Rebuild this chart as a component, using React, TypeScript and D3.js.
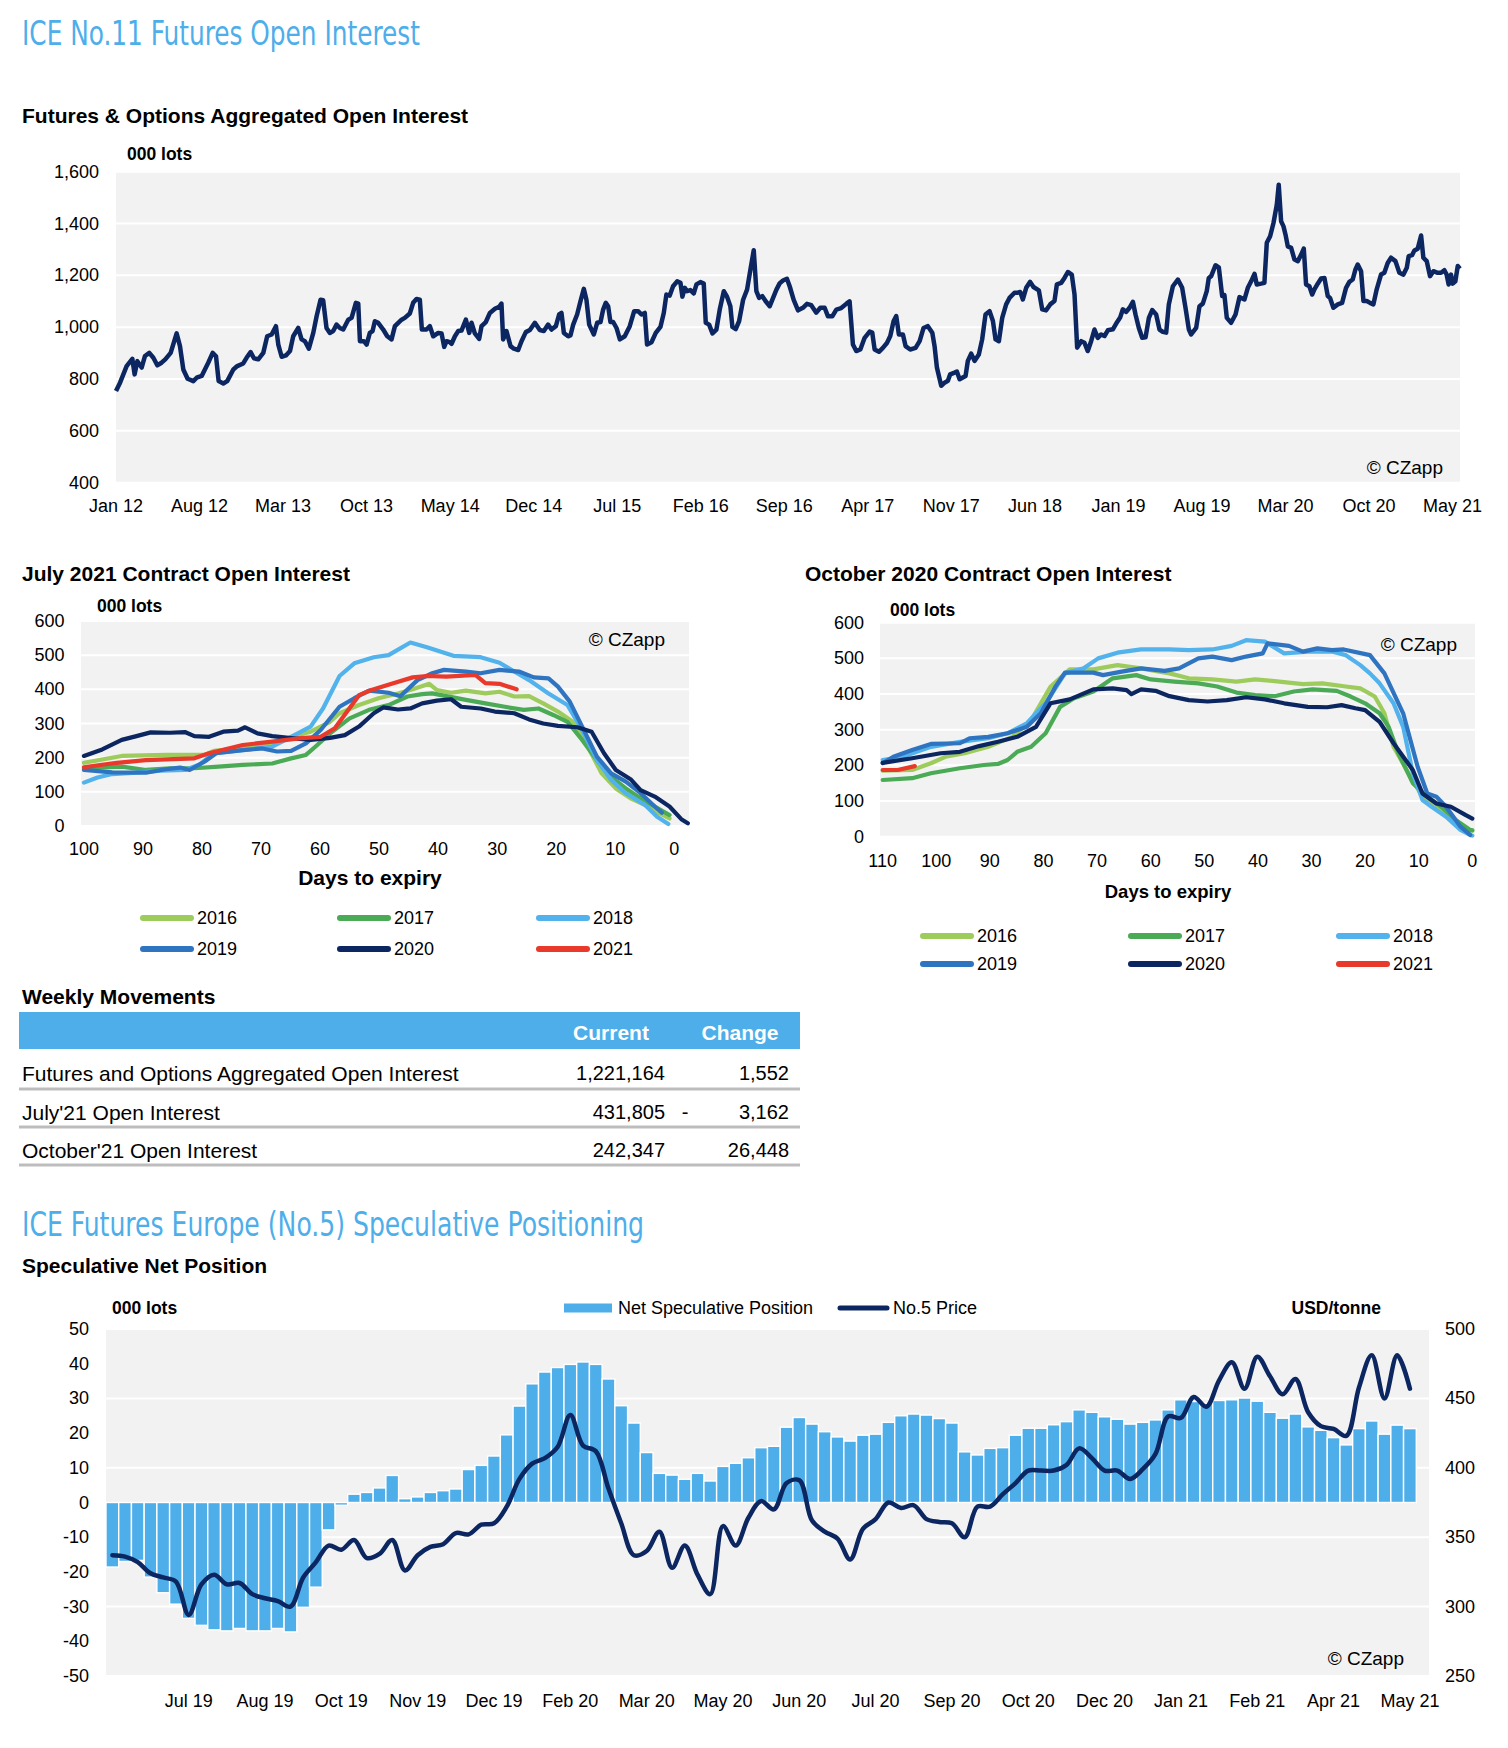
import React from "react";
import * as d3 from "d3";

const FONT = '"Liberation Sans", Arial, Helvetica, sans-serif';
const NARROW = '"Liberation Sans Narrow", "Arial Narrow", "DejaVu Sans Condensed", sans-serif';
const TITLE_BLUE = "#4DAEEA";
const NAVY = "#0B2660";
const BG = "#F2F2F2";

// ---------- Futures & Options Aggregated Open Interest (months since Jan 2012, 000 lots)
const oiSeries: [number, number][] = [
  [0,754],[0.34,786],[0.89,850],[1.37,878],[1.56,818],[1.79,869],[2.15,844],[2.43,889],[2.79,901],[3.13,882],[3.46,853],[3.82,863],[4.13,876],[4.58,901],[5.08,976],[5.36,927],[5.64,837],[6.0,801],[6.48,792],[6.76,805],[7.18,812],[7.73,863],[8.1,901],[8.38,888],[8.6,792],[8.99,783],[9.32,792],[9.83,837],[10.16,850],[10.66,860],[10.94,882],[11.28,904],[11.56,880],[11.92,876],[12.34,901],[12.67,965],[13.04,972],[13.4,1004],[13.6,933],[13.88,886],[14.24,891],[14.58,908],[14.85,965],[15.27,997],[15.55,953],[15.83,946],[16.16,917],[16.53,978],[16.81,1042],[17.14,1106],[17.36,1104],[17.64,997],[17.92,978],[18.2,985],[18.48,1010],[18.76,997],[19.04,991],[19.46,1029],[19.74,1036],[20.1,1094],[20.3,1091],[20.44,946],[20.77,946],[21.0,933],[21.27,978],[21.5,985],[21.69,1023],[21.97,1017],[22.39,991],[22.73,965],[23.09,953],[23.37,1004],[23.65,1017],[23.93,1029],[24.2,1036],[24.62,1053],[24.9,1094],[25.18,1109],[25.46,1106],[25.63,991],[26.02,991],[26.3,1004],[26.58,965],[27.0,978],[27.28,976],[27.5,924],[27.7,946],[27.97,942],
  [28.12,936],[28.4,965],[28.68,985],[28.95,987],[29.32,1029],[29.6,978],[29.79,1017],[30.07,976],[30.43,955],[30.63,1004],[30.99,1020],[31.33,1055],[31.75,1071],[32.11,1079],[32.3,1091],[32.44,953],[32.72,985],[33.06,927],[33.34,917],[33.7,912],[33.98,946],[34.34,981],[34.68,989],[35.1,1017],[35.51,989],[35.85,985],[36.21,1010],[36.49,991],[36.86,1004],[37.13,1049],[37.33,1055],[37.53,978],[37.89,965],[38.08,968],[38.31,1010],[38.64,1049],[38.92,1100],[39.2,1148],[39.42,1106],[39.65,1010],[40.04,972],[40.32,1017],[40.6,1020],[40.82,1068],[41.04,1094],[41.24,1081],[41.43,1020],[41.66,1020],[41.94,997],[42.22,953],[42.63,965],[43.05,1004],[43.42,1062],[43.75,1062],[44.03,1049],[44.31,1055],[44.5,933],[44.87,942],[45.23,978],[45.62,1001],[45.9,1055],[46.12,1126],[46.4,1122],[46.68,1158],[47.02,1177],[47.3,1171],[47.46,1118],[47.66,1152],[47.85,1139],[48.13,1143],[48.41,1130],[48.64,1165],[48.97,1174],[49.25,1168],[49.42,1017],[49.7,1010],[49.98,976],[50.31,991],[50.59,1068],[50.93,1139],[51.2,1118],[51.48,1081],[51.65,1001],[51.93,993],[52.21,1023],[52.55,1106],[52.88,1145],[53.16,1222],[53.44,1297],[53.66,1139],[53.89,1113],[54.16,1120],[54.44,1100],[54.78,1081],[55.06,1113],[55.34,1145],[55.62,1170],
  [55.89,1180],[56.22,1187],[56.45,1158],[56.78,1106],[57.15,1065],[57.56,1075],[57.9,1090],[58.26,1085],[58.68,1056],[59.02,1075],[59.38,1075],[59.66,1042],[60.02,1042],[60.36,1068],[60.77,1074],[61.19,1090],[61.47,1100],[61.75,933],[62.03,908],[62.37,914],[62.73,959],[63.15,983],[63.37,979],[63.57,914],[63.93,905],[64.26,920],[64.6,939],[64.88,966],[65.16,1024],[65.38,1043],[65.6,972],[65.94,972],[66.16,927],[66.55,914],[67.0,920],[67.34,946],[67.67,997],[68.03,1004],[68.4,979],[68.59,927],[68.79,844],[69.15,774],[69.43,786],[69.71,793],[69.9,818],[70.27,825],[70.46,829],[70.69,799],[70.96,806],[71.19,812],[71.38,870],[71.66,898],[71.94,870],[72.3,895],[72.58,953],[72.86,1049],[73.2,1062],[73.48,1024],[73.7,953],[73.98,946],[74.26,1036],[74.59,1088],[74.87,1113],[75.29,1133],[75.57,1133],[75.77,1136],[75.99,1107],[76.27,1152],[76.6,1175],[76.88,1155],[77.33,1142],[77.61,1069],[77.94,1065],[78.28,1088],[78.64,1101],[78.84,1165],[79.2,1171],[79.48,1190],[79.76,1213],[80.09,1203],[80.32,1126],[80.54,921],[80.88,946],[81.15,940],[81.43,908],[81.71,946],[81.99,991],[82.27,959],[82.55,972],[82.83,966],[83.11,988],[83.53,992],[83.81,1014],[84.14,1037],[84.37,1069],
  [84.65,1059],[84.93,1075],[85.21,1098],[85.43,1049],[85.71,997],[85.99,959],[86.27,961],[86.55,1036],[86.83,1066],[87.16,1049],[87.44,991],[87.72,982],[88.0,979],[88.22,1088],[88.56,1158],[88.98,1184],[89.34,1152],[89.62,1075],[89.9,991],[90.09,972],[90.51,997],[90.79,1081],[91.07,1091],[91.4,1139],[91.57,1190],[91.77,1197],[92.13,1239],[92.41,1231],[92.69,1120],[92.88,1124],[93.08,1036],[93.44,1017],[93.81,1049],[94.14,1116],[94.56,1107],[94.84,1152],[95.12,1177],[95.4,1206],[95.59,1165],[95.95,1168],[96.23,1171],[96.43,1326],[96.71,1351],[96.99,1402],[97.27,1473],[97.43,1550],[97.63,1409],[97.83,1389],[98.0,1357],[98.19,1312],[98.47,1306],[98.75,1261],[99.03,1255],[99.31,1280],[99.53,1303],[99.72,1165],[100.0,1158],[100.23,1126],[100.42,1146],[100.7,1168],[100.98,1188],[101.26,1190],[101.54,1120],[101.73,1113],[102.01,1075],[102.38,1088],[102.74,1094],[103.07,1152],[103.35,1175],[103.63,1184],[103.86,1223],[104.05,1242],[104.33,1216],[104.53,1101],[104.81,1101],[105.08,1094],[105.36,1088],[105.64,1146],[106.0,1203],[106.28,1210],[106.56,1248],[106.84,1268],[107.21,1255],[107.54,1210],[107.88,1203],[108.16,1229],[108.32,1274],[108.6,1278],[108.8,1296],[109.08,1303],[109.36,1354],[109.55,1268],[109.83,1255],[110.11,1197],[110.39,1216],[110.75,1210],[111.03,1210],[111.31,1220],[111.5,1203],[111.67,1165],[111.87,1203],[112.01,1168],[112.23,1177],[112.43,1236],[112.62,1226],
];
const oiTickLabels = ["Jan 12","Aug 12","Mar 13","Oct 13","May 14","Dec 14","Jul 15","Feb 16","Sep 16","Apr 17","Nov 17","Jun 18","Jan 19","Aug 19","Mar 20","Oct 20","May 21"];
const oiYTicks = [400, 600, 800, 1000, 1200, 1400, 1600];

// ---------- July 2021 contract (days to expiry, 000 lots)
const july2016: [number, number][] = [[100,185],[93.6,205],[86,208],[79.6,208],[78,220],[73,228],[68,238],[64.9,261],[61.6,276],[58.3,305],[56.7,330],[53.4,354],[50.1,374],[46.8,388],[44.3,400],[41.5,416],[40.2,398],[37.8,390],[35.3,396],[32,388],[29.6,393],[27.1,379],[24.6,380],[22.2,359],[19.7,335],[17.2,305],[14.8,237],[12.3,154],[9.9,110],[7.4,81],[4.9,61],[2.5,37],[0.8,22]];
const july2017: [number, number][] = [[100,169],[93.6,174],[89.5,164],[85.4,169],[81.3,169],[77.2,174],[73.1,179],[68.1,183],[64.9,198],[62.4,208],[60.8,232],[58.3,271],[55,315],[51.7,340],[48.4,354],[45.2,379],[42.7,386],[41,388],[38.6,380],[35.3,369],[32,359],[28.7,349],[25.5,340],[23,344],[20.5,325],[18.1,305],[15.6,252],[13.1,193],[10.7,144],[8.2,110],[5.7,81],[3.3,57],[0.8,32]];
const july2018: [number, number][] = [[100,127],[97.7,142],[95.2,152],[91.1,156],[87,162],[82.9,164],[80.5,179],[78,213],[73.1,222],[68.1,232],[64.9,261],[61.6,291],[59.5,344],[56.7,439],[54.2,476],[50.9,494],[48.4,500],[44.7,537],[41.9,523],[37.4,498],[32.8,494],[29.6,478],[27.1,452],[24.6,427],[21.3,388],[18.1,354],[15.6,281],[13.1,193],[10.7,135],[8.2,96],[4.9,61],[2.9,27],[1,6]];
const july2019: [number, number][] = [[100,164],[95.2,157],[89.5,156],[86.2,166],[83.7,171],[82.1,164],[79.6,188],[77.6,213],[73.1,222],[69.8,227],[67.3,218],[64.9,220],[62.4,242],[59.9,281],[56.7,349],[54.2,374],[51.7,396],[48.4,390],[46.4,380],[43.5,427],[41,447],[39,457],[35.3,452],[32.8,447],[29.6,457],[26.3,452],[23.8,435],[21.3,432],[19.7,408],[17.7,364],[15.6,291],[13.1,203],[10.7,154],[8.2,130],[5.7,96],[3.3,57],[2.1,39]];
const july2020: [number, number][] = [[100,205],[96.9,224],[93.6,252],[91.1,263],[88.7,274],[85.4,273],[82.9,275],[81.3,263],[78.8,261],[76.4,276],[73.9,279],[72.7,289],[70.6,271],[68.1,263],[64.9,257],[61.6,252],[58.3,258],[55.8,266],[53.4,291],[50.9,330],[49.3,347],[46.8,341],[44.7,344],[42.7,359],[40.2,367],[37.8,371],[36.1,349],[32.8,344],[30.4,335],[27.1,330],[24.6,312],[22.2,300],[19.7,293],[16.4,289],[14,276],[11.9,213],[9.9,164],[7.4,137],[5.7,105],[3.3,86],[0.8,57],[-1.2,20],[-2.3,8]];
const july2021: [number, number][] = [[100,172],[94.4,185],[89.5,193],[81.3,198],[78.8,213],[73.1,237],[68.1,247],[63.2,257],[59.9,261],[57.5,286],[53.4,383],[51.3,398],[47.6,418],[44.3,435],[41.9,439],[38.6,437],[33.7,442],[32,418],[29.6,416],[26.7,400]];

// ---------- October 2020 contract (days to expiry, 000 lots)
const oct2016: [number, number][] = [[110,185],[104.5,187],[101,206],[98.3,224],[94.7,234],[90.3,252],[85.8,280],[82.3,327],[78.7,420],[75.1,469],[70.7,469],[66.2,481],[61.8,472],[56.5,458],[52.9,444],[48.5,441],[44,435],[40.5,441],[36,435],[31.6,428],[28,430],[23.6,421],[20.9,416],[18.2,393],[16.4,346],[14.7,252],[11.9,178],[9.3,112],[6.7,84],[4,47],[1.3,21],[0,17]];
const oct2017: [number, number][] = [[110,159],[104.5,164],[101,178],[95.6,192],[91.1,201],[88.5,204],[86.7,215],[84.9,238],[82.3,252],[79.6,290],[76.9,364],[74.3,388],[70.7,407],[67.1,444],[62.7,453],[60,441],[55.6,435],[51.1,430],[47.6,421],[44,404],[40.5,397],[36.9,394],[33.3,407],[29.8,413],[25.3,409],[22.7,393],[20,374],[17.3,346],[15.6,308],[13.8,234],[11.1,150],[8.4,112],[5.8,84],[3.1,47],[0.4,19],[0,18]];
const oct2018: [number, number][] = [[110,215],[106.3,224],[101,252],[95.6,266],[90.3,276],[86.7,290],[83.1,318],[79.6,374],[76,458],[72.5,472],[69.8,500],[66.2,516],[61.8,525],[56.5,525],[52.9,523],[48.5,525],[44.9,535],[42.2,551],[38.7,547],[35.1,514],[30.7,519],[26.2,519],[23.6,509],[20.9,481],[19.1,458],[17.3,430],[14.7,374],[12.9,308],[11.1,178],[9.3,103],[7.6,84],[4.9,56],[2.2,19],[0.4,5],[0,3]];
const oct2019: [number, number][] = [[110,206],[108,224],[104.5,243],[101,260],[95.6,262],[93.8,276],[90.3,280],[86.7,290],[83.1,308],[80.5,346],[77.8,420],[76,460],[70.7,460],[68.9,453],[65.4,463],[61.8,472],[57.4,465],[54.7,472],[51.1,500],[48.5,505],[44.9,495],[42.2,505],[39.1,514],[38.2,542],[34.2,535],[31.6,519],[28.9,528],[26.2,523],[24,525],[19.1,509],[16.4,458],[12.9,346],[10.2,196],[8.4,121],[6.7,112],[4.9,84],[2.2,28],[0.4,5]];
const oct2020: [number, number][] = [[110,207],[104.5,220],[99.2,234],[95.6,238],[92,254],[88.5,266],[84.9,280],[81.4,308],[78.7,374],[75.1,385],[70.7,413],[67.1,416],[64.5,411],[63.6,400],[61.8,413],[59.1,409],[56.5,394],[52.9,383],[49.4,379],[45.8,383],[42.2,391],[38.7,385],[35.1,374],[30.7,364],[27.1,363],[24.4,369],[21.8,360],[20,355],[17.3,322],[14.7,262],[11.1,187],[9.3,121],[6.7,93],[4,84],[1.3,61],[0,51]];
const oct2021: [number, number][] = [[110,187],[107.2,187],[104,198]];

const seasonYears = ["2016", "2017", "2018", "2019", "2020", "2021"];
const dayTicksJuly = [100, 90, 80, 70, 60, 50, 40, 30, 20, 10, 0];
const dayTicksOct = [110, 100, 90, 80, 70, 60, 50, 40, 30, 20, 10, 0];
const lotTicks = [0, 100, 200, 300, 400, 500, 600];

// ---------- Weekly movements table
const tableLabels = ["Futures and Options Aggregated Open Interest", "July'21 Open Interest", "October'21 Open Interest"];
const tableCurrent = [1221164, 431805, 242347];
const tableChange = [1552, -3162, 26448];

// ---------- Speculative net position (weekly from 4 Jun 2019)
const netSpec = [-18.6,-17,-16.7,-21.5,-26,-29.3,-33.4,-35.4,-36.7,-37,-36.3,-37,-37,-36.3,-37.3,-30.2,-24.4,-7.9,-0.8,2.4,2.9,4.2,7.8,1.1,1.6,2.9,3.4,3.9,9.5,10.7,13.4,19.5,27.8,34.2,37.6,38.9,39.8,40.5,39.8,35.6,27.9,22.9,14.4,8.4,7.9,6.7,8.4,6.2,10.4,11.3,12.9,15.8,16.2,21.7,24.5,22.6,20.4,18.9,17.7,19.4,19.7,23.1,25,25.5,25.2,24.2,22.9,14.6,13.7,15.6,15.8,19.4,21.4,21.4,22.4,23.3,26.7,26,24.7,24,22.6,23.1,23.8,26.7,29.6,29.1,28.6,29.4,29.6,30.1,29.2,26,24.3,25.5,21.8,20.8,18.7,16.6,21.3,23.5,19.7,22.3,21.3];
const no5Price = [337,336,332,324,321,318,294,316,323,316,317,309,306,304,300,321,332,344,341,348,335,338,348,326,337,343,345,353,352,359,360,372,392,403,407,415,438,416,412,385,360,337,340,354,328,344,323,309,358,344,364,376,370,389,391,362,354,349,334,356,363,375,371,373,363,361,360,350,372,372,381,389,398,398,398,402,414,407,398,398,392,399,410,437,436,451,444,463,476,457,480,466,453,464,440,430,428,423,458,481,450,481,457];
const specTickLabels = ["Jul 19","Aug 19","Oct 19","Nov 19","Dec 19","Feb 20","Mar 20","May 20","Jun 20","Jul 20","Sep 20","Oct 20","Dec 20","Jan 21","Feb 21","Apr 21","May 21"];
const specLeftTicks = [-50,-40,-30,-20,-10,0,10,20,30,40,50];
const specRightTicks = [250,300,350,400,450,500];
const SPEC_SLOTS = 104;

const yearColors: Record<string, string> = {
  "2016": "#9DCB5C",
  "2017": "#4BAA55",
  "2018": "#52B2EC",
  "2019": "#2F74C0",
  "2020": "#0B2660",
  "2021": "#E8392B",
};

type Pt = [number, number];

function SeasonChart(props: {
  series: Record<string, Pt[]>;
  xDomain: [number, number]; xRange: [number, number];
  yRange: [number, number];
  xTicks: number[]; yLabelX: number; xLabelY: number;
  lotsX: number; lotsY: number; czX: number; czY: number;
  axisTitleX: number; axisTitleY: number; axisTitleSize: number;
  legendCols: number[]; legendRows: number[];
}) {
  const p = props;
  const x = d3.scaleLinear().domain(p.xDomain).range(p.xRange);
  const y = d3.scaleLinear().domain([0, 600]).range(p.yRange);
  const line = d3.line<Pt>().x(d => x(d[0])).y(d => y(d[1]));
  return (
    <g>
      <rect x={p.xRange[0]} y={p.yRange[1]} width={p.xRange[1] - p.xRange[0]} height={p.yRange[0] - p.yRange[1]} fill={BG} />
      {lotTicks.map(v => (
        <line key={"g" + v} x1={p.xRange[0]} x2={p.xRange[1]} y1={y(v)} y2={y(v)} stroke="#fff" strokeWidth={2} />
      ))}
      {lotTicks.map(v => (
        <text key={"yl" + v} x={p.yLabelX} y={y(v)} textAnchor="end" dominantBaseline="central" fontSize={18}>{v}</text>
      ))}
      {p.xTicks.map(v => (
        <text key={"xl" + v} x={x(v)} y={p.xLabelY} textAnchor="middle" dominantBaseline="central" fontSize={18}>{v}</text>
      ))}
      <text x={p.lotsX} y={p.lotsY} dominantBaseline="central" fontSize={17.5} fontWeight="bold">000 lots</text>
      <text x={p.czX} y={p.czY} textAnchor="end" dominantBaseline="central" fontSize={19}>© CZapp</text>
      {seasonYears.map(yr => (
        <path key={"s" + yr} d={line(p.series[yr]) || ""} fill="none" stroke={yearColors[yr]} strokeWidth={4.2} strokeLinejoin="round" strokeLinecap="round" />
      ))}
      <text x={p.axisTitleX} y={p.axisTitleY} textAnchor="middle" dominantBaseline="central" fontSize={p.axisTitleSize} fontWeight="bold">Days to expiry</text>
      {seasonYears.map((yr, i) => {
        const cx = p.legendCols[i % 3];
        const cy = p.legendRows[Math.floor(i / 3)];
        return (
          <g key={"lg" + yr}>
            <line x1={cx + 3} x2={cx + 51} y1={cy} y2={cy} stroke={yearColors[yr]} strokeWidth={6} strokeLinecap="round" />
            <text x={cx + 57} y={cy} dominantBaseline="central" fontSize={18}>{yr}</text>
          </g>
        );
      })}
    </g>
  );
}

function TopChart() {
  const x = d3.scaleLinear().domain([0, 112.62]).range([116, 1460]);
  const y = d3.scaleLinear().domain([400, 1600]).range([482.7, 171.7]);
  const line = d3.line<Pt>().x(d => x(d[0])).y(d => y(d[1]));
  const fmt = d3.format(",");
  return (
    <g>
      <rect x={116} y={171.7} width={1344} height={311} fill={BG} />
      {oiYTicks.map(v => (
        <line key={"g" + v} x1={116} x2={1460} y1={y(v)} y2={y(v)} stroke="#fff" strokeWidth={2} />
      ))}
      {oiYTicks.map(v => (
        <text key={"yl" + v} x={99} y={y(v)} textAnchor="end" dominantBaseline="central" fontSize={18}>{fmt(v)}</text>
      ))}
      {oiTickLabels.map((t, i) => (
        <text key={"xl" + i} x={x(i * 7)} y={506} textAnchor="middle" dominantBaseline="central" fontSize={18}>{t}</text>
      ))}
      <text x={127} y={154} dominantBaseline="central" fontSize={17.5} fontWeight="bold">000 lots</text>
      <text x={1443} y={467} textAnchor="end" dominantBaseline="central" fontSize={19}>© CZapp</text>
      <path d={line(oiSeries) || ""} fill="none" stroke={NAVY} strokeWidth={4.5} strokeLinejoin="round" />
    </g>
  );
}

function Table() {
  const fmt = d3.format(",");
  const rowY = [1073, 1112, 1150];
  const sepY = [1089, 1127, 1165];
  return (
    <g>
      <text x={22} y={996} dominantBaseline="central" fontSize={21} fontWeight="bold">Weekly Movements</text>
      <rect x={19} y={1012} width={781} height={37} fill="#4DAEE9" />
      <text x={611} y={1032} textAnchor="middle" dominantBaseline="central" fontSize={21} fontWeight="bold" fill="#fff">Current</text>
      <text x={740} y={1032} textAnchor="middle" dominantBaseline="central" fontSize={21} fontWeight="bold" fill="#fff">Change</text>
      {tableLabels.map((lab, i) => (
        <g key={"r" + i}>
          <text x={22} y={rowY[i]} dominantBaseline="central" fontSize={21}>{lab}</text>
          <text x={665} y={rowY[i]} textAnchor="end" dominantBaseline="central" fontSize={20}>{fmt(tableCurrent[i])}</text>
          {tableChange[i] < 0 ? (
            <text x={685} y={rowY[i]} textAnchor="middle" dominantBaseline="central" fontSize={20}>-</text>
          ) : null}
          <text x={789} y={rowY[i]} textAnchor="end" dominantBaseline="central" fontSize={20}>{fmt(Math.abs(tableChange[i]))}</text>
          <line x1={19} x2={800} y1={sepY[i]} y2={sepY[i]} stroke="#BDBDBD" strokeWidth={2.8} />
        </g>
      ))}
    </g>
  );
}

function SpecChart() {
  const left = 106, right = 1429, top = 1329, bottom = 1676;
  const x = d3.scaleBand<number>().domain(d3.range(SPEC_SLOTS)).range([left, right]).padding(0);
  const yL = d3.scaleLinear().domain([-50, 50]).range([bottom, top]);
  const yR = d3.scaleLinear().domain([250, 500]).range([bottom, top]);
  const priceLine = d3.line<number>()
    .x((_, i) => (x(i) as number) + x.bandwidth() / 2)
    .y(d => yR(d))
    .curve(d3.curveCatmullRom.alpha(0.5));
  return (
    <g>
      <rect x={left} y={top} width={right - left} height={bottom - top} fill={BG} />
      {specRightTicks.map(v => (
        <line key={"g" + v} x1={left} x2={right} y1={yR(v)} y2={yR(v)} stroke="#fff" strokeWidth={2} />
      ))}
      {netSpec.map((v, i) => (
        <rect key={"b" + i} x={x(i) as number} width={x.bandwidth()}
          y={Math.min(yL(v), yL(0))} height={Math.abs(yL(v) - yL(0))}
          fill="#4EAEEA" stroke="#fff" strokeWidth={1.4} />
      ))}
      <path d={priceLine(no5Price) || ""} fill="none" stroke={NAVY} strokeWidth={4.5} strokeLinejoin="round" strokeLinecap="round" />
      {specLeftTicks.map(v => (
        <text key={"l" + v} x={89} y={yL(v)} textAnchor="end" dominantBaseline="central" fontSize={18}>{v}</text>
      ))}
      {specRightTicks.map(v => (
        <text key={"r" + v} x={1445} y={yR(v)} dominantBaseline="central" fontSize={18}>{v}</text>
      ))}
      {specTickLabels.map((t, k) => {
        const idx = 6 + k * 6;
        return (
          <text key={"x" + k} x={(x(idx) as number) + x.bandwidth() / 2} y={1701} textAnchor="middle" dominantBaseline="central" fontSize={18}>{t}</text>
        );
      })}
      <text x={112} y={1308} dominantBaseline="central" fontSize={17.5} fontWeight="bold">000 lots</text>
      <text x={1381} y={1308} textAnchor="end" dominantBaseline="central" fontSize={17.5} fontWeight="bold">USD/tonne</text>
      <rect x={564} y={1303.5} width={48} height={9} fill="#4EAEEA" />
      <text x={618} y={1308} dominantBaseline="central" fontSize={18}>Net Speculative Position</text>
      <line x1={840} x2={887} y1={1308} y2={1308} stroke={NAVY} strokeWidth={5} strokeLinecap="round" />
      <text x={893} y={1308} dominantBaseline="central" fontSize={18}>No.5 Price</text>
      <text x={1404} y={1658} textAnchor="end" dominantBaseline="central" fontSize={19}>© CZapp</text>
    </g>
  );
}

export default function App() {
  const julySeries: Record<string, Pt[]> = { "2016": july2016, "2017": july2017, "2018": july2018, "2019": july2019, "2020": july2020, "2021": july2021 };
  const octSeries: Record<string, Pt[]> = { "2016": oct2016, "2017": oct2017, "2018": oct2018, "2019": oct2019, "2020": oct2020, "2021": oct2021 };
  return (
    <div style={{ position: "absolute", left: 0, top: 0 }}>
      <svg width={1508} height={1748} style={{ display: "block", background: "#fff" }} fontFamily={FONT} fill="#000">
        <text x={22} y={45} fontFamily={NARROW} fontSize={33} fill={TITLE_BLUE} textLength={398} lengthAdjust="spacingAndGlyphs">ICE No.11 Futures Open Interest</text>
        <text x={22} y={115} dominantBaseline="central" fontSize={21} fontWeight="bold">Futures &amp; Options Aggregated Open Interest</text>
        <TopChart />

        <text x={22} y={573} dominantBaseline="central" fontSize={21} fontWeight="bold">July 2021 Contract Open Interest</text>
        <SeasonChart series={julySeries} xDomain={[100.5, -2.5]} xRange={[81, 689]} yRange={[826, 621]}
          xTicks={dayTicksJuly} yLabelX={64.5} xLabelY={849} lotsX={97} lotsY={606} czX={665} czY={639}
          axisTitleX={370} axisTitleY={877} axisTitleSize={21}
          legendCols={[140, 337, 536]} legendRows={[918, 949]} />

        <text x={805} y={573} dominantBaseline="central" fontSize={21} fontWeight="bold">October 2020 Contract Open Interest</text>
        <SeasonChart series={octSeries} xDomain={[110.5, -0.5]} xRange={[880, 1475]} yRange={[836.7, 622.7]}
          xTicks={dayTicksOct} yLabelX={864} xLabelY={861} lotsX={890} lotsY={610} czX={1457} czY={644}
          axisTitleX={1168} axisTitleY={891} axisTitleSize={18.5}
          legendCols={[920, 1128, 1336]} legendRows={[936, 964]} />

        <Table />

        <text x={22} y={1236} fontFamily={NARROW} fontSize={33} fill={TITLE_BLUE} textLength={622} lengthAdjust="spacingAndGlyphs">ICE Futures Europe (No.5) Speculative Positioning</text>
        <text x={22} y={1265} dominantBaseline="central" fontSize={21} fontWeight="bold">Speculative Net Position</text>
        <SpecChart />
      </svg>
    </div>
  );
}
